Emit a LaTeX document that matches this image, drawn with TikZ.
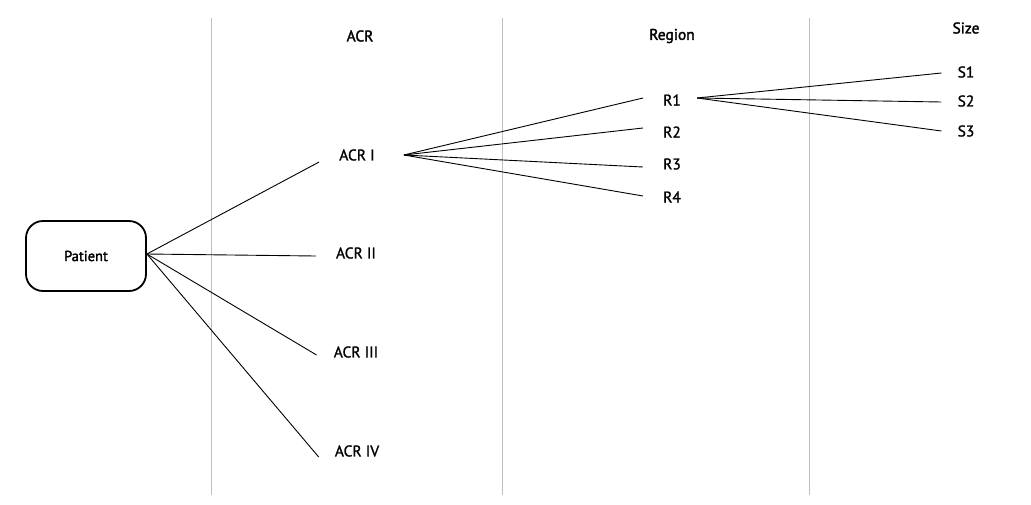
\documentclass[tikz,border=0pt]{standalone}
\usepackage{fontspec}
\setmainfont{PT Sans}
\newfontfamily\lblfont[FakeBold=1.2]{PT Sans}
\newfontfamily\headfont[FakeBold=2]{PT Sans}
\usetikzlibrary{calc}
\begin{document}
\begin{tikzpicture}[x=1pt,y=-1pt,
  lane/.style={draw=black!25,line width=0.9pt},
  conn/.style={draw=black,line width=0.9pt},
  lbl/.style={inner sep=0pt,font=\lblfont\fontsize{15.5}{17}\selectfont},
  head/.style={inner sep=0pt,font=\headfont\fontsize{15.5}{17}\selectfont},
  patientbox/.style={draw=black,line width=1.8pt,rounded corners=17pt,minimum width=120pt,minimum height=70pt,font=\headfont\fontsize{14.5}{16}\selectfont}]
\useasboundingbox (0,0) rectangle (1031,504);
% lanes
\draw[lane] (211,18) -- (211,495);
\draw[lane] (502,18) -- (502,495);
\draw[lane] (809,18) -- (809,495);
% headers
\node[head] (hacr) at (360,36) {ACR};
\node[head] (hreg) at (672,36) {Region};
\node[head] (hsize) at (966,28) {Size};
% nodes
\node[patientbox] (patient) at (86,256) {Patient};
\node[lbl] (acr1) at (357,155) {ACR I};
\node[lbl] (acr2) at (356,253) {ACR II};
\node[lbl] (acr3) at (356,352) {ACR III};
\node[lbl] (acr4) at (357,451) {ACR IV};
\node[lbl] (r1) at (672,100) {R1};
\node[lbl] (r2) at (672,132) {R2};
\node[lbl] (r3) at (672,164) {R3};
\node[lbl] (r4) at (672,197) {R4};
\node[lbl] (s1) at (966,72) {S1};
\node[lbl] (s2) at (966,101) {S2};
\node[lbl] (s3) at (966,131) {S3};
% connectors
\coordinate (pout) at ($(patient.east)+(0,-2)$);
\coordinate (aout) at ($(acr1.east)+(29,0)$);
\coordinate (rout) at ($(r1.east)+(16,-2)$);
\draw[conn] (pout) -- ($(acr1.west)+(-20,7)$);
\draw[conn] (pout) -- ($(acr2.west)+(-20,3)$);
\draw[conn] (pout) -- ($(acr3.west)+(-17,3)$);
\draw[conn] (pout) -- ($(acr4.west)+(-16,6)$);
\draw[conn] (aout) -- ($(r1.west)+(-20,-2)$);
\draw[conn] (aout) -- ($(r2.west)+(-20,-4)$);
\draw[conn] (aout) -- ($(r3.west)+(-20,3)$);
\draw[conn] (aout) -- ($(r4.west)+(-20,-1)$);
\draw[conn] (rout) -- ($(s1.west)+(-16,1)$);
\draw[conn] (rout) -- ($(s2.west)+(-16,1)$);
\draw[conn] (rout) -- ($(s3.west)+(-16,0)$);
\end{tikzpicture}
\end{document}
